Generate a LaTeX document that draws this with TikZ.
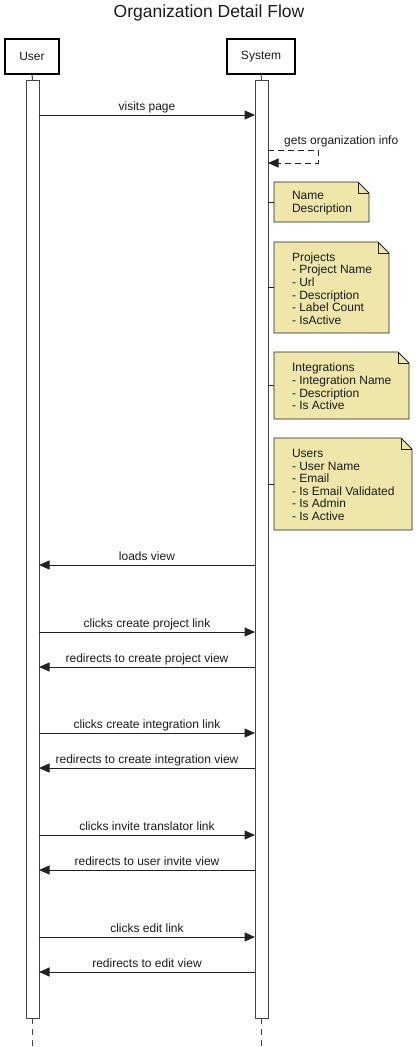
\documentclass[tikz,border=0pt]{standalone}
\usepackage{fontspec}
\setmainfont{Liberation Sans}
\usetikzlibrary{arrows.meta}
\definecolor{notefill}{HTML}{EFE6AA}
\definecolor{linec}{HTML}{222222}
\definecolor{actc}{HTML}{444444}
\definecolor{txtc}{HTML}{1A1A1A}
\begin{document}
\begin{tikzpicture}[x=1pt,y=-1pt,
  actor/.style={draw=black, line width=1.6pt, fill=white, inner sep=0pt, outer sep=0pt,
    minimum height=35pt, font=\fontsize{12}{14}\selectfont, text=txtc},
  actbar/.style={draw=actc, line width=1pt, fill=white, inner sep=0pt, outer sep=0pt,
    minimum width=13pt, minimum height=938pt},
  life/.style={draw=actc, line width=1pt},
  msg/.style={draw=linec, line width=1pt, -{Triangle[length=10.5pt,width=9pt]}},
  selfmsg/.style={msg, dash pattern=on 6pt off 4pt},
  lbl/.style={font=\fontsize{12}{14}\selectfont, text=txtc, inner sep=0pt, anchor=base, yshift=5pt, midway},
  notearea/.style={draw=none, inner sep=0pt, outer sep=0pt},
  notetext/.style={inner sep=0pt, outer sep=0pt, align=left, anchor=west,
    font=\fontsize{12}{12.6}\selectfont, text=txtc},
  noteline/.style={draw=linec, line width=0.9pt, fill=notefill},
  foldline/.style={draw=linec, line width=0.9pt},
  conn/.style={draw=linec, line width=0.9pt}
]
\useasboundingbox (0,0) rectangle (417,1047);

% title
\node[font=\fontsize{17.5}{20}\selectfont, text=txtc] (title) at (209,13) {Organization Detail Flow};

% actors
\node[actor, minimum width=54pt] (user) at (32,56.5) {User};
\node[actor, minimum width=68pt] (system) at (261,56.5) {System};

% activation bars
\node[actbar] (ua) at (32.5,549) {};
\node[actbar] (sa) at (261.5,549) {};

\coordinate (bot) at (0,1047);
\draw[life] (user.south) -- (ua.north);
\draw[life] (system.south) -- (sa.north);
\draw[life, dash pattern=on 6pt off 5pt] (ua.south) -- (ua.south |- bot);
\draw[life, dash pattern=on 6pt off 5pt] (sa.south) -- (sa.south |- bot);

% message rows
\coordinate (m1) at (0,115);
\coordinate (m2) at (0,565);
\coordinate (m3) at (0,632);
\coordinate (m4) at (0,667);
\coordinate (m5) at (0,733);
\coordinate (m6) at (0,768);
\coordinate (m7) at (0,835);
\coordinate (m8) at (0,870);
\coordinate (m9) at (0,937);
\coordinate (m10) at (0,972);

\draw[msg] (ua.east |- m1) -- node[lbl]{visits page} (sa.west |- m1);
\draw[msg] (sa.west |- m2) -- node[lbl]{loads view} (ua.east |- m2);
\draw[msg] (ua.east |- m3) -- node[lbl]{clicks create project link} (sa.west |- m3);
\draw[msg] (sa.west |- m4) -- node[lbl]{redirects to create project view} (ua.east |- m4);
\draw[msg] (ua.east |- m5) -- node[lbl]{clicks create integration link} (sa.west |- m5);
\draw[msg] (sa.west |- m6) -- node[lbl]{redirects to create integration view} (ua.east |- m6);
\draw[msg] (ua.east |- m7) -- node[lbl]{clicks invite translator link} (sa.west |- m7);
\draw[msg] (sa.west |- m8) -- node[lbl]{redirects to user invite view} (ua.east |- m8);
\draw[msg] (ua.east |- m9) -- node[lbl]{clicks edit link} (sa.west |- m9);
\draw[msg] (sa.west |- m10) -- node[lbl]{redirects to edit view} (ua.east |- m10);

% self message
\coordinate (s1) at (0,150);
\coordinate (s2) at (0,163);
\coordinate (sx) at (318,0);
\draw[selfmsg] (sa.east |- s1) -- (sx |- s1) -- (sx |- s2) -- (sa.east |- s2);
\node[font=\fontsize{12}{14}\selectfont, text=txtc, inner sep=0pt, anchor=base west] (selflbl) at (284,144) {gets organization info};

% notes (areas)
\def\fold{11}
\node[notearea, minimum width=95pt, minimum height=40pt] (n1) at (321.5,202) {};
\node[notearea, minimum width=115pt, minimum height=91pt] (n2) at (331.5,287.5) {};
\node[notearea, minimum width=135pt, minimum height=67pt] (n3) at (341.5,385.5) {};
\node[notearea, minimum width=138pt, minimum height=92pt] (n4) at (343,484) {};

\foreach \n in {n1,n2,n3,n4}{
  \path[noteline] (\n.north west) -- ([xshift=-\fold pt]\n.north east) -- ([yshift=-\fold pt]\n.north east) -- (\n.south east) -- (\n.south west) -- cycle;
  \draw[foldline] ([xshift=-\fold pt]\n.north east) -- ([xshift=-\fold pt,yshift=-\fold pt]\n.north east) -- ([yshift=-\fold pt]\n.north east);
  \draw[conn] (sa.east |- \n.west) -- (\n.west);
}

% note texts
\node[notetext] (t1) at ([xshift=18pt,yshift=-1pt]n1.west) {Name\\Description};
\node[notetext] (t2) at ([xshift=18pt,yshift=-1pt]n2.west) {Projects\\- Project Name\\- Url\\- Description\\- Label Count\\- IsActive};
\node[notetext] (t3) at ([xshift=18pt,yshift=-1pt]n3.west) {Integrations\\- Integration Name\\- Description\\- Is Active};
\node[notetext] (t4) at ([xshift=18pt,yshift=-1pt]n4.west) {Users\\- User Name\\- Email\\- Is Email Validated\\- Is Admin\\- Is Active};
\end{tikzpicture}
\end{document}
